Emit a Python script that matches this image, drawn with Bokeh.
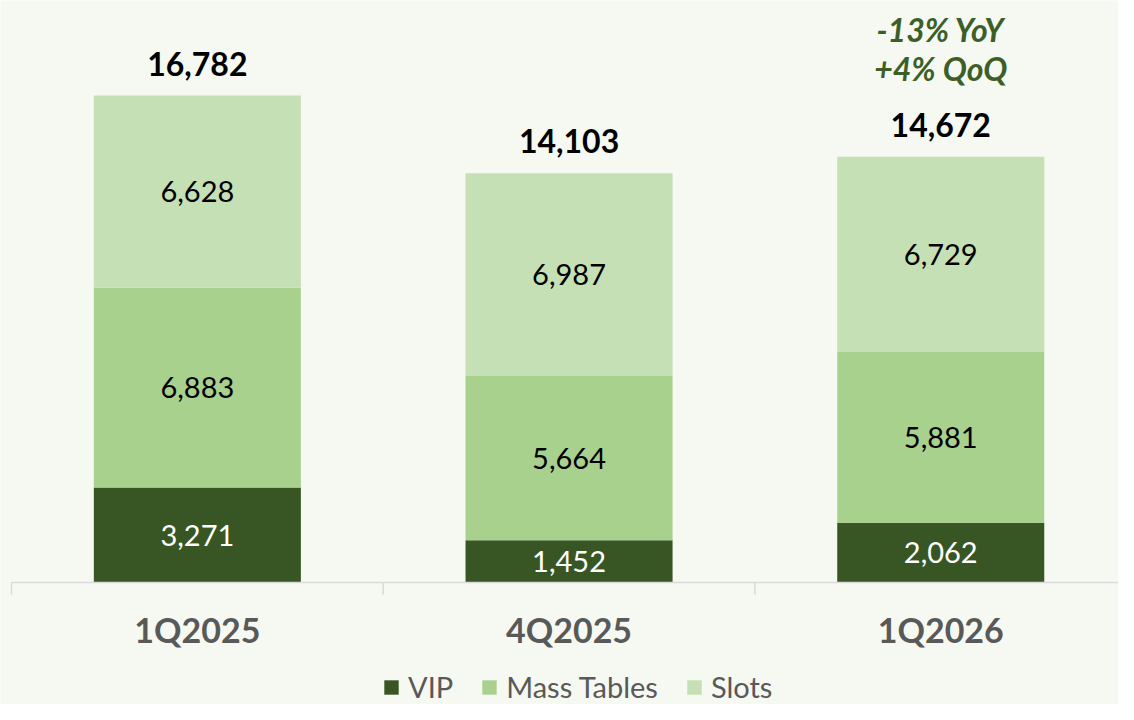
from bokeh.plotting import figure
from bokeh.models import Range1d, Legend, LegendItem, ColumnDataSource
from bokeh.core.properties import value
from bokeh.embed import file_html
from bokeh.resources import INLINE

# ---- data ----
categories = ["1Q2025", "4Q2025", "1Q2026"]
vip = [3271, 1452, 2062]
mass_tables = [6883, 5664, 5881]
slots = [6628, 6987, 6729]
totals = [16782, 14103, 14672]
series_names = ["VIP", "Mass Tables", "Slots"]
annotation_lines = ["-13% YoY", "+4% QoQ"]
annotated_index = 2

# ---- style ----
BG = "#F6F8F2"
COLORS = ["#375623", "#A9D18E", "#C5E0B4"]
LABEL_COLORS = ["white", "black", "black"]
FONT = "Lato"
GRAY = "#595959"
AXIS_GRAY = "#D9D9D9"

W, H = 1118, 704
AXIS_LEFT_PX = 11          # where the category axis starts
BASELINE_PX = 582          # screen y of value 0
PX_PER_CAT = 371.7
PX_PER_UNIT = 487.0 / 16782
TICK_PX = 12

xs = list(range(len(categories)))
x_start = -0.5 - AXIS_LEFT_PX / PX_PER_CAT
x_end = x_start + W / PX_PER_CAT
y_start = -(H - BASELINE_PX) / PX_PER_UNIT
y_end = BASELINE_PX / PX_PER_UNIT

p = figure(width=W, height=H, output_backend="svg", toolbar_location=None,
           x_range=Range1d(x_start, x_end), y_range=Range1d(y_start, y_end),
           x_axis_location=None, y_axis_location=None,
           min_border=0)
p.background_fill_color = BG
p.border_fill_color = BG
p.outline_line_color = None
p.grid.visible = False

src = ColumnDataSource(dict(x=xs, vip=vip, mass=mass_tables, slots=slots))
keys = ["vip", "mass", "slots"]
renderers = p.vbar_stack(keys, x="x", width=0.557, color=COLORS,
                         line_color=None, source=src)

# category axis: baseline line, boundary ticks, labels
p.segment(x0=[-0.5], y0=[0], x1=[x_end], y1=[0],
          line_color=AXIS_GRAY, line_width=1.5)
bounds = [x - 0.5 for x in xs] + [xs[-1] + 0.5]
p.segment(x0=bounds, y0=[0] * len(bounds), x1=bounds,
          y1=[-TICK_PX / PX_PER_UNIT] * len(bounds),
          line_color=AXIS_GRAY, line_width=1.5)
p.text(x=xs, y=[0] * len(xs), text=categories, text_color=GRAY,
       text_align="center", text_baseline="middle", y_offset=47,
       text_font=value(FONT), text_font_size="34px", text_font_style="bold")

# segment labels
series = [vip, mass_tables, slots]
seg_x, seg_y, seg_t, seg_c = [], [], [], []
bottoms = [0] * len(categories)
for s_i, vals in enumerate(series):
    for i, v in enumerate(vals):
        seg_x.append(xs[i])
        seg_y.append(bottoms[i] + v / 2)
        seg_t.append(f"{v:,}")
        seg_c.append(LABEL_COLORS[s_i])
        bottoms[i] += v
p.text(x=seg_x, y=seg_y, text=seg_t, text_color=seg_c,
       text_align="center", text_baseline="middle",
       text_font=value(FONT), text_font_size="29px")

# totals
p.text(x=xs, y=totals, text=[f"{t:,}" for t in totals], text_color="black",
       text_align="center", text_baseline="middle", y_offset=-32,
       text_font=value(FONT), text_font_size="32px", text_font_style="bold")

# annotation
for j, line in enumerate(annotation_lines):
    p.text(x=[xs[annotated_index]], y=[totals[annotated_index]], text=[line],
           text_color="#3C5F28", text_align="center", text_baseline="middle",
           y_offset=-127 + 39 * j, text_font=value(FONT),
           text_font_size="32px", text_font_style="bold italic")

# legend
items = [LegendItem(label=n, renderers=[r]) for n, r in zip(series_names, renderers)]
legend = Legend(items=items, orientation="horizontal",
                location=(382, 0), padding=0, margin=0, spacing=27,
                glyph_width=18, glyph_height=18, label_standoff=8,
                label_text_font=FONT, label_text_font_size="29px",
                label_text_color=GRAY, background_fill_alpha=0,
                border_line_color=None)
p.add_layout(legend)

open("out.html", "w").write(file_html(p, INLINE))
